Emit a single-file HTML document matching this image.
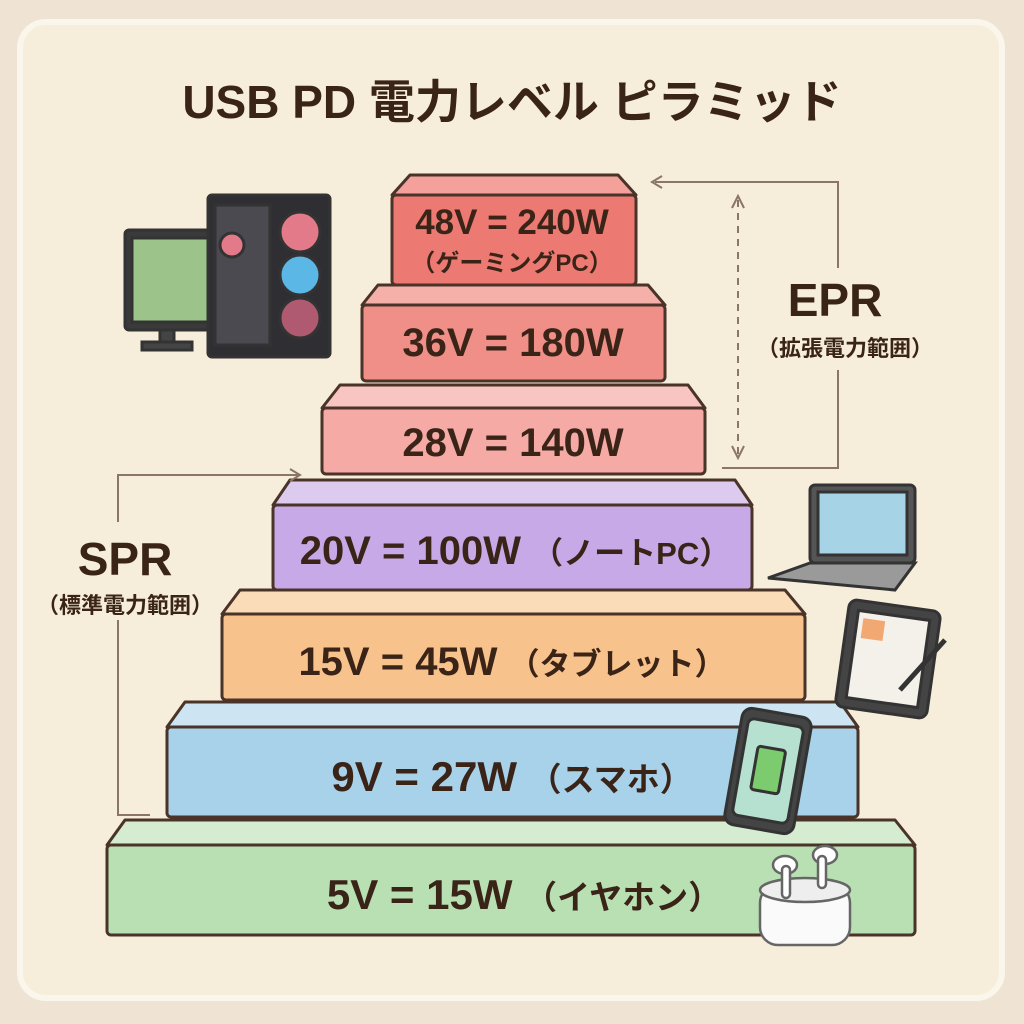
<!DOCTYPE html>
<html><head><meta charset="utf-8"><style>
html,body{margin:0;padding:0;width:1024px;height:1024px;background:#efe4d3;overflow:hidden}
svg{display:block}
text{font-family:"Liberation Sans","Noto Sans CJK JP",sans-serif;font-weight:bold;fill:#3a2418}
</style></head><body>
<svg width="1024" height="1024" viewBox="0 0 1024 1024">
<rect x="0" y="0" width="1024" height="1024" fill="#efe4d3"/>
<rect x="20" y="22" width="982" height="976" rx="26" fill="#f6eedb" stroke="#fbf6ec" stroke-width="6"/>
<text x="512" y="118" font-size="46" text-anchor="middle">USB PD 電力レベル ピラミッド</text>

<g stroke="#4a3328" stroke-width="3" stroke-linejoin="round">
<polygon points="125,820 895,820 915,845 107,845" fill="#d5ecd0"/>
<rect x="107" y="845" width="808" height="90" rx="4" fill="#b9e0b3"/>
<polygon points="185,702 840,702 858,727 167,727" fill="#cde5f2"/>
<rect x="167" y="727" width="691" height="90" rx="4" fill="#a8d1ea"/>
<polygon points="240,590 785,590 805,614 222,614" fill="#fbdcb8"/>
<rect x="222" y="614" width="583" height="86" rx="4" fill="#f8c28c"/>
<polygon points="290,480 735,480 752,505 273,505" fill="#ddcbef"/>
<rect x="273" y="505" width="479" height="85" rx="4" fill="#c6a9e6"/>
<polygon points="340,385 688,385 705,408 322,408" fill="#f8c5c2"/>
<rect x="322" y="408" width="383" height="66" rx="4" fill="#f5aaa6"/>
<polygon points="378,285 648,285 665,305 362,305" fill="#f5b0aa"/>
<rect x="362" y="305" width="303" height="76" rx="4" fill="#ef8f88"/>
<polygon points="410,175 618,175 636,195 392,195" fill="#f3a19a"/>
<rect x="392" y="195" width="244" height="90" rx="4" fill="#ec7a72"/>
</g>

<text x="512" y="234" font-size="35" text-anchor="middle">48V = 240W</text>
<text x="512" y="271" font-size="24" text-anchor="middle">（ゲーミングPC）</text>
<text x="513" y="356" font-size="40" text-anchor="middle">36V = 180W</text>
<text x="513" y="456" font-size="40" text-anchor="middle">28V = 140W</text>
<text x="515" y="564" font-size="40" text-anchor="middle">20V = 100W <tspan font-size="31">（ノートPC）</tspan></text>
<text x="512" y="675" font-size="40" text-anchor="middle">15V = 45W <tspan font-size="31">（タブレット）</tspan></text>
<text x="512" y="791" font-size="42" text-anchor="middle">9V = 27W <tspan font-size="33">（スマホ）</tspan></text>
<text x="524" y="909" font-size="42" text-anchor="middle">5V = 15W <tspan font-size="33">（イヤホン）</tspan></text>

<g stroke="#8a7566" stroke-width="2" fill="none">
<polyline points="655,182 838,182 838,268"/>
<polyline points="838,370 838,468 722,468"/>
<polyline points="662,176 652,182 662,188"/>
<line x1="738" y1="200" x2="738" y2="455" stroke-dasharray="7,6"/>
<polyline points="732,208 738,196 744,208"/>
<polyline points="732,446 738,458 744,446"/>
<polyline points="150,815 118,815 118,620"/>
<polyline points="118,522 118,475 298,475"/>
<polyline points="290,469 300,475 290,481"/>
</g>
<text x="835" y="316" font-size="46" text-anchor="middle">EPR</text>
<text x="845" y="356" font-size="22" text-anchor="middle">（拡張電力範囲）</text>
<text x="125" y="575" font-size="46" text-anchor="middle">SPR</text>
<text x="125" y="613" font-size="22" text-anchor="middle">（標準電力範囲）</text>

<g stroke="#333" stroke-width="3">
<rect x="125" y="230" width="95" height="100" rx="4" fill="#3a3a3a"/>
<rect x="132" y="238" width="80" height="84" fill="#9cc48a"/>
<rect x="160" y="330" width="14" height="14" fill="#444"/>
<rect x="142" y="342" width="50" height="8" fill="#444"/>
<rect x="208" y="195" width="122" height="162" rx="4" fill="#2f2f33"/>
<rect x="215" y="205" width="55" height="140" fill="#4a4a50"/>
<circle cx="300" cy="232" r="20" fill="#e37a8a"/>
<circle cx="300" cy="275" r="20" fill="#5ab7e6"/>
<circle cx="300" cy="318" r="20" fill="#b05a72"/>
<circle cx="232" cy="245" r="12" fill="#e37a8a"/>
</g>
<g stroke="#333" stroke-width="3">
<rect x="810" y="485" width="105" height="78" rx="5" fill="#555"/>
<rect x="818" y="492" width="89" height="63" fill="#a7d3e6"/>
<polygon points="810,563 915,563 895,590 768,578" fill="#9a9a9a"/>
</g>
<g stroke="#333" stroke-width="3">
<rect x="842" y="605" width="92" height="108" rx="8" fill="#444" transform="rotate(8 888 659)"/>
<rect x="852" y="615" width="72" height="88" fill="#f4f1ea" transform="rotate(8 888 659)"/>
<rect x="858" y="622" width="22" height="20" fill="#f2a873" stroke="none" transform="rotate(8 888 659)"/>
<line x1="945" y1="640" x2="900" y2="690" stroke-width="5"/>
</g>
<g stroke="#333" stroke-width="3">
<rect x="733" y="712" width="70" height="118" rx="10" fill="#444" transform="rotate(10 768 771)"/>
<rect x="740" y="722" width="56" height="98" rx="6" fill="#b6e0cf" transform="rotate(10 768 771)"/>
<rect x="754" y="748" width="28" height="44" rx="3" fill="#7ccb6e" transform="rotate(10 768 771)"/>
</g>
<g stroke="#666" stroke-width="2.5">
<rect x="760" y="885" width="90" height="60" rx="18" fill="#fafafa"/>
<ellipse cx="805" cy="890" rx="45" ry="12" fill="#eee"/>
<ellipse cx="785" cy="865" rx="12" ry="9" fill="#fff"/>
<rect x="782" y="866" width="8" height="32" rx="4" fill="#fff"/>
<ellipse cx="825" cy="855" rx="12" ry="9" fill="#fff"/>
<rect x="818" y="856" width="8" height="32" rx="4" fill="#fff"/>
</g>
</svg>
</body></html>
